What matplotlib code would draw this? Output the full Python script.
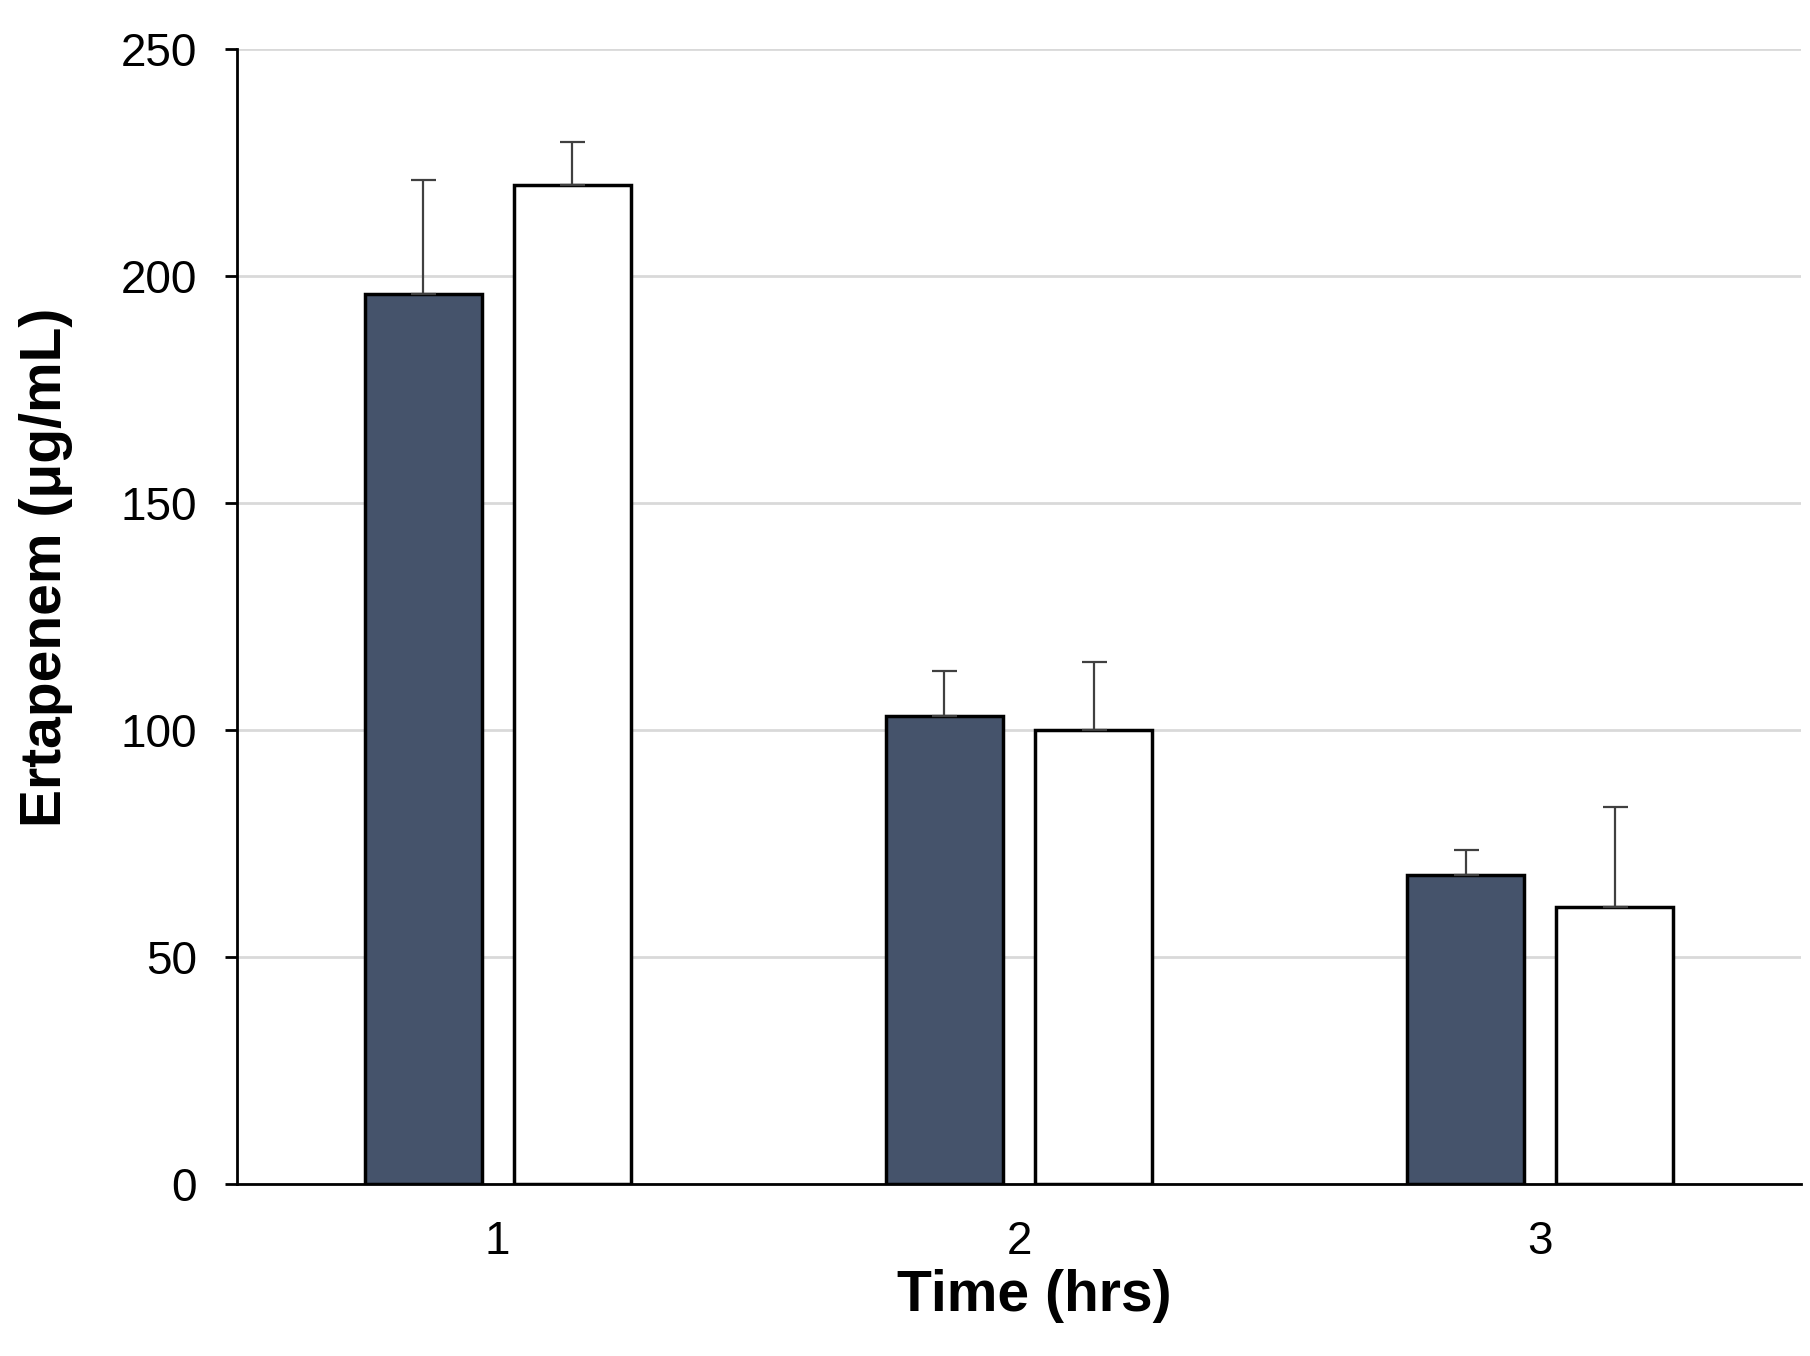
import matplotlib
matplotlib.use('Agg')
import matplotlib.pyplot as plt
import numpy as np

plt.rcParams['font.family'] = ['Liberation Sans', 'DejaVu Sans']

times = ['1', '2', '3']
group_a = [196, 103, 68]
group_a_err = [25, 10, 5.5]
group_b = [220, 100, 61]
group_b_err = [9.5, 15, 22]

x = np.arange(1, len(times) + 1)
w = 0.224
off = 0.143

fig = plt.figure(figsize=(18.1, 13.56), dpi=100)
ax = fig.add_axes([0.131, 0.127, 0.864, 0.837])

ekw = dict(ecolor='#404040', elinewidth=1.6, capsize=9, capthick=1.6)
ax.bar(x - off, group_a, w, color='#45536b', edgecolor='black', linewidth=2.5,
       yerr=[np.zeros(3), group_a_err], error_kw=ekw, zorder=3)
ax.bar(x + off, group_b, w, color='white', edgecolor='black', linewidth=2.5,
       yerr=[np.zeros(3), group_b_err], error_kw=ekw, zorder=3)

ax.set_xlim(0.5, 3.5)
ax.set_ylim(0, 250)
ax.set_yticks(range(0, 251, 50))
ax.set_xticks(x)
ax.set_xticklabels(times)
ax.yaxis.grid(True, color='#d9d9d9', linewidth=2)
ax.set_axisbelow(True)
for s in ['top', 'right']:
    ax.spines[s].set_visible(False)
ax.spines['left'].set_linewidth(2)
ax.spines['bottom'].set_linewidth(2)
ax.tick_params(axis='y', length=9, width=2, pad=20, labelsize=33)
ax.tick_params(axis='x', length=0, pad=26, labelsize=33)
ax.set_xlabel('Time (hrs)', fontsize=41, fontweight='bold', labelpad=6)
ax.set_ylabel('Ertapenem (\u03bcg/mL)', fontsize=41, fontweight='bold', labelpad=34)
ax.xaxis.set_label_coords(0.51, -0.075)
ax.yaxis.label.set_y(0.543)

plt.savefig('out.png', dpi=100)
